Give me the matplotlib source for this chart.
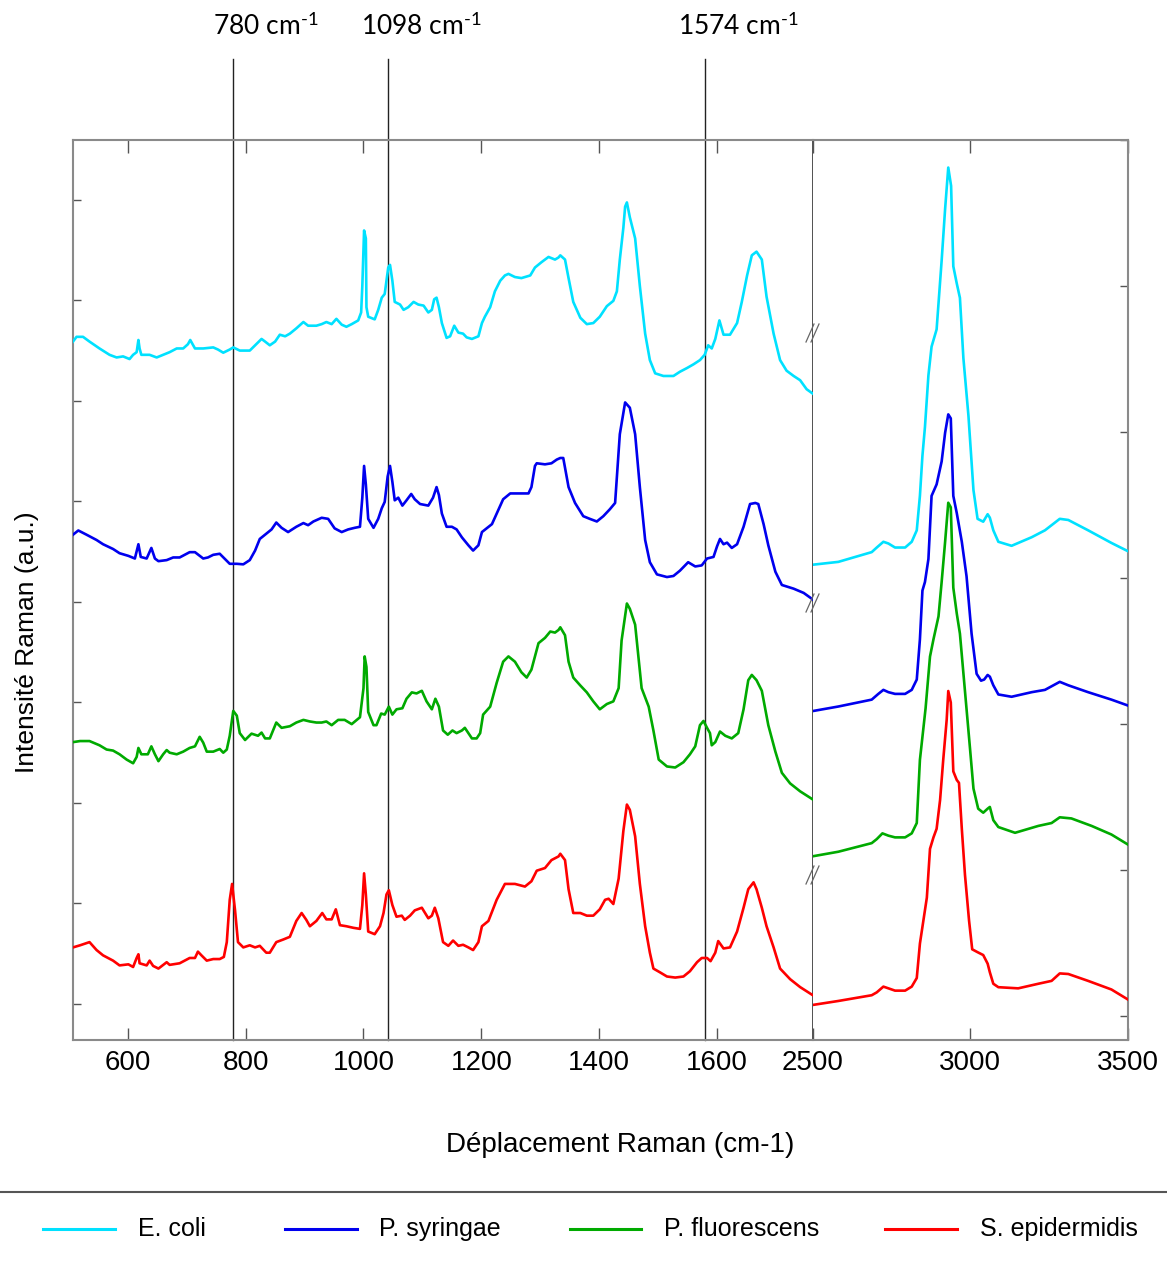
import numpy as np
import matplotlib.pyplot as plt
from matplotlib.lines import Line2D
import matplotlib.transforms as mtransforms

plt.rcParams['font.family'] = ['Liberation Sans', 'DejaVu Sans']
plt.rcParams['mathtext.fontset'] = 'custom'
plt.rcParams['mathtext.rm'] = 'Lato'
plt.rcParams['mathtext.it'] = 'Lato:italic'
plt.rcParams['mathtext.bf'] = 'Lato:bold'

species = ["E. coli", "P. syringae", "P. fluorescens", "S. epidermidis"]
colors = ["#00e1ff", "#0000ee", "#00aa00", "#ff0000"]

# ---- 500-1760 cm-1 (left panel), intensities in a.u. (offset per strain)
ecoli_lo_x = [507, 513, 524, 535, 552, 569, 581, 592, 603, 609, 615, 618, 620, 623, 637, 649, 660, 671, 683, 694,
              702, 706, 714, 728, 745, 753, 762, 773, 779, 790, 807, 818, 827, 833, 841, 850, 858, 867, 875, 886,
              898, 906, 920,
              929, 937, 946, 954, 963, 971, 980, 991, 996, 998, 1001, 1004, 1005, 1008, 1019, 1025, 1031, 1036, 1042, 1045,
              1049, 1053, 1062, 1068, 1076, 1085, 1093, 1102, 1110, 1116, 1120, 1124, 1128, 1133, 1141, 1147, 1154, 1161,
              1169, 1175, 1184, 1195, 1201, 1206, 1215, 1223, 1232, 1240, 1246, 1257, 1268, 1283, 1291, 1302, 1314, 1325,
              1331,
              1334, 1342, 1348, 1356, 1368, 1379, 1390, 1401, 1413, 1424, 1430, 1435, 1441, 1444, 1447, 1452, 1461, 1469,
              1478, 1486, 1495, 1509, 1526, 1537, 1549, 1560, 1571, 1579, 1585, 1591, 1597, 1604, 1611, 1622, 1634, 1642,
              1651, 1659, 1667, 1676, 1684, 1696, 1707, 1718, 1730, 1741, 1752, 1762]
ecoli_lo_y = [1252, 1261, 1261, 1252, 1239, 1227, 1222, 1224, 1219, 1227, 1232, 1255, 1239, 1227, 1227, 1222, 1227, 1232,
              1239, 1239, 1247, 1255, 1239, 1239, 1241, 1237, 1231, 1237, 1241, 1235, 1235, 1247, 1257, 1252, 1245, 1252,
              1265, 1262, 1267, 1277, 1289, 1282, 1282,
              1285, 1289, 1285, 1295, 1284, 1280, 1285, 1292, 1307, 1357, 1462, 1447, 1317, 1299, 1294, 1312, 1335, 1342,
              1392, 1397, 1367, 1327, 1322, 1312, 1317, 1327, 1322, 1320, 1307, 1312, 1332, 1335, 1317, 1287, 1259, 1262,
              1282, 1269, 1267, 1260, 1257, 1262, 1287, 1299, 1317, 1347, 1367, 1377, 1380, 1374, 1372, 1377, 1392, 1402,
              1412, 1407, 1411,
              1415, 1407, 1372, 1327, 1297, 1285, 1287, 1299, 1319, 1329, 1347, 1407, 1467, 1507, 1515, 1487, 1447, 1357,
              1267, 1217, 1192, 1187, 1187, 1195, 1202, 1209, 1217, 1227, 1245, 1239, 1257, 1292, 1265, 1265, 1287, 1327,
              1377, 1415, 1422, 1407, 1337, 1267, 1217, 1197, 1187, 1179, 1162, 1154]

syringae_lo_x = [507, 516, 530, 547, 558, 575, 586, 601, 612, 618, 622, 632, 640, 646, 652, 666, 677, 688, 705, 714,
                 728, 736, 745, 756, 765, 773, 785, 796, 807, 816, 824, 835, 844, 852, 861, 872, 886, 898, 906, 915,
                 929, 940, 951, 963, 974, 985, 994, 998, 1001, 1004, 1008, 1017, 1025, 1031, 1036, 1041, 1045, 1049, 1053,
                 1059, 1066, 1073, 1081, 1087, 1096, 1110, 1118, 1124, 1128, 1133, 1141, 1150, 1158, 1167, 1178, 1186, 1195,
                 1201, 1209, 1218, 1226, 1237, 1249, 1263, 1280, 1285, 1291, 1294, 1308, 1319, 1328,
                 1334, 1339, 1348, 1359, 1373, 1384, 1396, 1407, 1418, 1427, 1435, 1444, 1452, 1461, 1469, 1478, 1486, 1498,
                 1515, 1526, 1537, 1551, 1563, 1574, 1583, 1594, 1600, 1605, 1611, 1617, 1625, 1634, 1645, 1656, 1665, 1670,
                 1679, 1687, 1699, 1710, 1730, 1747, 1762]
syringae_lo_y = [887, 895, 887, 877, 869, 860, 852, 847, 842, 869, 845, 842, 862, 842, 837, 839, 844, 844, 854, 854,
                 842, 844, 849, 851, 841, 832, 832, 831, 839, 857, 879, 889, 897, 910, 900, 892, 902, 909, 905, 912,
                 919, 917, 899, 892, 897, 900, 902, 957, 1017, 982, 917, 900, 917, 937, 949, 997, 1017, 987, 952, 957,
                 942, 952, 964, 954, 945, 942, 957, 977, 962, 927, 902, 902, 897, 882, 867, 857, 867, 892, 899, 907,
                 927, 954, 965, 965, 965, 977, 1017, 1022, 1020, 1022, 1029,
                 1032, 1032, 977, 947, 922, 917, 912, 922, 935, 947, 1077, 1137, 1127, 1077, 977, 877, 835, 812, 807, 809,
                 819, 835, 827, 829, 842, 845, 865, 879, 869, 872, 862, 869, 902, 945, 947, 945, 907, 867, 817, 792,
                 785, 777, 765]

fluorescens_lo_x = [507, 519, 535, 552, 564, 575, 586, 598, 609, 615, 618, 623, 634, 640, 646, 652, 660, 666, 671, 683,
                    694, 705, 714, 722, 728, 734, 745, 756, 762, 768, 773, 779, 785, 790, 799, 810, 821, 827, 833, 841,
                    852, 861, 875, 886, 898, 909, 920,
                    929, 937, 946, 957, 968, 980, 994, 1000, 1002, 1005, 1008, 1017, 1022, 1030, 1036, 1043, 1049, 1056,
                    1066, 1073, 1082, 1090, 1099, 1107, 1116, 1122, 1128, 1135, 1143, 1151, 1158, 1167, 1172, 1178, 1184,
                    1192, 1198, 1203, 1215, 1226, 1237, 1246, 1257, 1268, 1277, 1285, 1297, 1308, 1317, 1325, 1331,
                    1334, 1342, 1348, 1356, 1368, 1379, 1390, 1401, 1413, 1424, 1433, 1438, 1447, 1452, 1461, 1472, 1484,
                    1492, 1501, 1515, 1529, 1543, 1554, 1563, 1571, 1577, 1583, 1588, 1591, 1597, 1605, 1614, 1625, 1636,
                    1645, 1653, 1659, 1667, 1676, 1687, 1699, 1710, 1724, 1741, 1762]
fluorescens_lo_y = [495, 497, 497, 489, 481, 479, 472, 462, 455, 467, 484, 472, 472, 487, 472, 459, 472, 480, 475, 472,
                    477, 484, 487, 505, 494, 477, 477, 482, 475, 481, 507, 554, 545, 512, 499, 511, 507, 513, 502, 502,
                    532, 522, 525, 532, 537, 534, 532,
                    532, 534, 527, 537, 537, 529, 542, 597, 657, 637, 552, 527, 527, 549, 547, 562, 547, 557, 559, 577,
                    589, 587, 592, 572, 557, 577, 562, 517, 509, 517, 512, 517, 522, 512, 502, 502, 512, 547, 562, 607,
                    647, 657, 647, 627, 617, 632, 682, 692, 704, 702, 707,
                    712, 697, 647, 617, 602, 589, 572, 557, 567, 572, 597, 687, 757, 747, 717, 597, 562, 517, 462, 449,
                    447, 457, 472, 487, 527, 535, 522, 512, 489, 495, 515, 507, 502, 512, 557, 612, 622, 612, 592, 527,
                    477, 437, 417, 402, 387]

epidermidis_lo_x = [507, 519, 535, 547, 558, 575, 586, 601, 609, 615, 618, 620, 632, 637, 643, 652, 666, 671, 688, 705,
                    714, 719, 725, 734, 745, 756, 763, 768, 773, 777, 782, 787, 796, 807, 816, 824, 835, 841, 852, 864,
                    875, 886, 895, 903, 909, 920,
                    930, 937, 946, 953, 960, 971, 983, 994, 998, 1001, 1004, 1008, 1019, 1028, 1034, 1039, 1043, 1049,
                    1056, 1065, 1070, 1079, 1087, 1099, 1110, 1116, 1121, 1127, 1135, 1144, 1152, 1161, 1169, 1178, 1186,
                    1195, 1201, 1212, 1226, 1240, 1257, 1274, 1285, 1294, 1308, 1319, 1331,
                    1334, 1342, 1348, 1356, 1368, 1379, 1390, 1401, 1410, 1416, 1424, 1433, 1441, 1447, 1452, 1461, 1469,
                    1478, 1486, 1492, 1503, 1515, 1529, 1543, 1554, 1566, 1574, 1583, 1589, 1597, 1602, 1611, 1622, 1634,
                    1645, 1653, 1662, 1667, 1676, 1684, 1696, 1707, 1724, 1741, 1762]
epidermidis_lo_y = [107, 111, 117, 102, 92, 82, 73, 75, 70, 87, 94, 77, 73, 82, 72, 67, 79, 74, 77, 87,
                    87, 99, 92, 82, 85, 85, 89, 117, 197, 227, 177, 117, 107, 111, 107, 110, 97, 97, 117, 122,
                    127, 157, 172, 159, 147, 157,
                    172, 160, 160, 179, 149, 147, 144, 142, 187, 247, 207, 137, 132, 147, 172, 207, 215, 187, 165, 167,
                    159, 167, 177, 182, 162, 167, 182, 162, 117, 110, 120, 110, 112, 107, 102, 117, 147, 157, 197, 227,
                    227, 222, 232, 252, 257, 272, 279,
                    284, 272, 217, 172, 172, 167, 167, 179, 197, 199, 189, 237, 327, 377, 367, 317, 227, 147, 97, 67,
                    60, 52, 50, 52, 62, 79, 87, 87, 81, 97, 119, 105, 107, 137, 182, 217, 230, 217, 182, 147,
                    107, 67, 47, 32, 17]

# ---- 2500-3500 cm-1 (right panel)
ecoli_hi_x = [2500, 2582, 2688, 2704, 2725, 2741, 2762, 2794, 2815, 2831, 2841, 2849, 2857, 2868, 2878, 2894, 2910,
              2921, 2931, 2940, 2947, 2958, 2968, 2979, 2995, 3011, 3024, 3042, 3056, 3063, 3074, 3090, 3132, 3196,
              3238, 3285, 3312, 3375, 3449, 3500]
ecoli_hi_y = [787, 792, 809, 817, 827, 824, 817, 817, 827, 847, 907, 977, 1027, 1117, 1167, 1197, 1317, 1407, 1479,
              1447, 1307, 1277, 1252, 1147, 1047, 917, 867, 862, 875, 869, 847, 827, 820, 835, 847, 867, 865, 847,
              825, 811]
syringae_hi_x = [2500, 2582, 2688, 2709, 2725, 2741, 2762, 2794, 2815, 2831, 2841, 2849, 2857, 2868, 2878, 2894, 2910,
                 2921, 2931, 2939, 2947, 2958, 2974, 2989, 3005, 3021, 3035, 3045, 3056, 3063, 3074, 3090, 3132, 3196,
                 3238, 3285, 3312, 3375, 3449, 3500]
syringae_hi_y = [532, 540, 552, 562, 569, 565, 562, 562, 569, 587, 657, 742, 757, 797, 907, 927, 967, 1017, 1049, 1042,
                 907, 877, 827, 767, 667, 597, 585, 587, 595, 592, 577, 561, 557, 565, 569, 583, 577, 565, 552, 542]
fluorescens_hi_x = [2500, 2582, 2688, 2704, 2722, 2741, 2762, 2794, 2815, 2831, 2841, 2849, 2859, 2873, 2884, 2900,
                    2910, 2921, 2931, 2939, 2947, 2958, 2968, 2984, 3000, 3011, 3026, 3042, 3056, 3063, 3074, 3090,
                    3143, 3217, 3259, 3285, 3322, 3386, 3449, 3500]
fluorescens_hi_y = [279, 287, 302, 309, 319, 315, 312, 312, 319, 337, 447, 487, 537, 627, 657, 697, 757, 827, 895, 887,
                    747, 702, 667, 567, 467, 397, 362, 355, 362, 365, 342, 330, 320, 332, 337, 347, 345, 332, 317, 300]
epidermidis_hi_x = [2500, 2582, 2688, 2704, 2725, 2741, 2762, 2794, 2815, 2831, 2841, 2852, 2863, 2873, 2884, 2894,
                    2905, 2915, 2926, 2931, 2939, 2947, 2958, 2965, 2974, 2984, 2997, 3007, 3024, 3042, 3056, 3063,
                    3074, 3090, 3153, 3217, 3259, 3285, 3312, 3375, 3449, 3500]
epidermidis_hi_y = [20, 27, 37, 42, 52, 49, 45, 45, 52, 67, 127, 167, 207, 292, 312, 327, 377, 447, 517, 567,
                    547, 427, 412, 407, 327, 247, 167, 117, 112, 107, 92, 77, 57, 51, 49, 57, 62, 75, 74, 62, 47, 30]

# marked bands
band_pos = [778, 1042, 1580]
band_labels = ["780", "1098", "1574"]

W, H = 1167, 1268
fig = plt.figure(figsize=(W / 100, H / 100), dpi=100)
ax1 = fig.add_axes([73 / W, 228 / H, 739.5 / W, 900 / H])
ax2 = fig.add_axes([812.5 / W, 228 / H, 315 / W, 900 / H])

lo = [(ecoli_lo_x, ecoli_lo_y), (syringae_lo_x, syringae_lo_y),
      (fluorescens_lo_x, fluorescens_lo_y), (epidermidis_lo_x, epidermidis_lo_y)]
hi = [(ecoli_hi_x, ecoli_hi_y), (syringae_hi_x, syringae_hi_y),
      (fluorescens_hi_x, fluorescens_hi_y), (epidermidis_hi_x, epidermidis_hi_y)]
for (x, y), c in zip(lo, colors):
    ax1.plot(x, y, color=c, lw=1.9, zorder=3)
for (x, y), c in zip(hi, colors):
    ax2.plot(x, y, color=c, lw=1.9, zorder=3)

ax1.set_xlim(507, 1762)
ax1.set_ylim(-68, 1633)
ax2.set_xlim(2500, 3500)
ax2.set_ylim(-41, 1527)

grey = '#8a8a8a'
ax1.set_xticks([600, 800, 1000, 1200, 1400, 1600])
ax1.set_yticks(np.arange(0, 1521, 190))
ax1.set_yticklabels([])
ax1.tick_params(axis='x', direction='in', top=True, length=9, width=1, color='#555555',
                labelsize=20, pad=7)
ax1.tick_params(axis='y', direction='in', left=True, length=6, width=1, color='#555555')
ax2.set_xticks([2500, 3000, 3500])
ax2.set_yticks(np.linspace(0, 1527, 7))
ax2.yaxis.tick_right()
ax2.set_yticklabels([])
ax2.tick_params(axis='x', direction='in', top=True, length=9, width=1, color='#555555',
                labelsize=20, pad=7)
ax2.tick_params(axis='y', direction='in', length=6, width=1, color='#555555')

for s in ['left', 'top', 'bottom']:
    ax1.spines[s].set_color(grey)
    ax1.spines[s].set_linewidth(1.5)
ax1.spines['right'].set_color('#333333')
ax1.spines['right'].set_linewidth(1.2)
ax2.spines['left'].set_visible(False)
for s in ['right', 'top', 'bottom']:
    ax2.spines[s].set_color(grey)
    ax2.spines[s].set_linewidth(1.5)

# vertical band markers with labels above the plot
trans = mtransforms.blended_transform_factory(ax1.transData, ax1.transAxes)
label_x = [834, 1099, 1636]
for p, lab, lx in zip(band_pos, band_labels, label_x):
    ax1.axvline(p, ymin=0, ymax=1.09, color='#222222', lw=1, clip_on=False, zorder=2)
    ax1.text(lx, 1.1167, lab + r" cm$^{\text{-}1}$", transform=trans, ha='center', va='baseline',
             fontsize=19, family='Lato')

# axis break marks on the panel boundary
for py in [333, 603, 875]:
    for off in [-2.5, 2.5]:
        fig.add_artist(Line2D([(812.5 + off - 4) / W, (812.5 + off + 4) / W],
                              [(H - py - 9) / H, (H - py + 9) / H],
                              transform=fig.transFigure, color='#666666', lw=0.9))

fig.text(620 / W, (H - 1145) / H, "Déplacement Raman (cm-1)", ha='center', va='center', fontsize=20)
fig.text(27 / W, (H - 642) / H, "Intensité Raman (a.u.)", rotation=90, ha='center', va='center',
         fontsize=19)

# legend below a separator line
fig.add_artist(Line2D([0, 1], [(H - 1192) / H] * 2, transform=fig.transFigure, color='#555555', lw=1.5))
leg_line = [(43, 115), (285, 357), (570, 641), (885, 957)]
leg_text = [138, 379, 664, 980]
ly = (H - 1229) / H
for name, c, (a, b), tx in zip(species, colors, leg_line, leg_text):
    fig.add_artist(Line2D([a / W, b / W], [ly, ly], transform=fig.transFigure, color=c, lw=2.2))
    fig.text(tx / W, ly, name, ha='left', va='center', fontsize=18)

fig.savefig("out.png", dpi=100)
